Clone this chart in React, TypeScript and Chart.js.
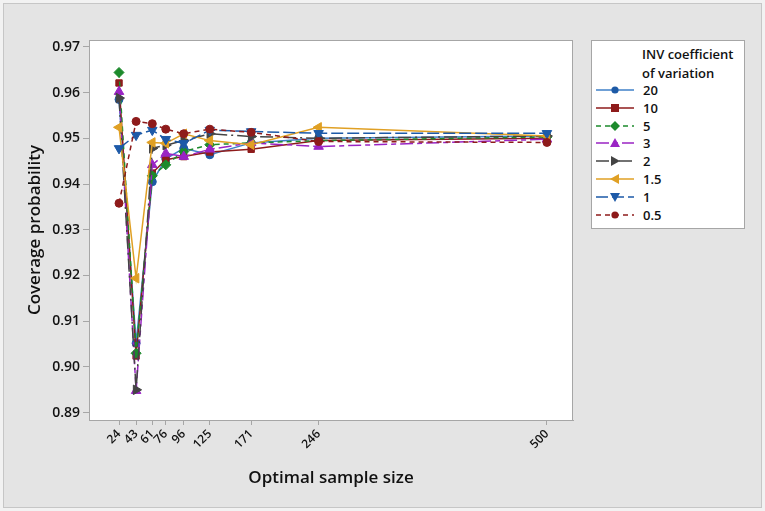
import { Chart, registerables } from "chart.js"
import { useEffect, useRef } from "react"

Chart.register(...registerables)

const FONT = '"Open Sans", "Noto Sans", sans-serif'

// optimal sample sizes on the x axis
const SAMPLE_SIZES = [24, 43, 61, 76, 96, 125, 171, 246, 500]
const Y_TICKS = [0.89, 0.9, 0.91, 0.92, 0.93, 0.94, 0.95, 0.96, 0.97]

// coverage probability per INV coefficient of variation
const CV_20 = [0.9585, 0.9052, 0.9405, 0.9455, 0.9478, 0.9464, 0.949, 0.95, 0.9505]
const CV_10 = [0.9621, 0.9024, 0.9424, 0.9453, 0.946, 0.947, 0.9476, 0.9495, 0.95]
const CV_5 = [0.9644, 0.903, 0.9418, 0.9442, 0.9471, 0.9486, 0.949, 0.9495, 0.9503]
const CV_3 = [0.9602, 0.8948, 0.9442, 0.9467, 0.946, 0.9476, 0.949, 0.9482, 0.9498]
const CV_2 = [0.9588, 0.895, 0.9478, 0.9485, 0.9495, 0.951, 0.9504, 0.95, 0.9505]
const CV_1_5 = [0.9524, 0.9194, 0.9491, 0.9489, 0.951, 0.9495, 0.9486, 0.9524, 0.9505]
const CV_1 = [0.9478, 0.9507, 0.9518, 0.9498, 0.9489, 0.9518, 0.9515, 0.9511, 0.9511]
const CV_0_5 = [0.9358, 0.9537, 0.9532, 0.952, 0.951, 0.952, 0.9513, 0.9493, 0.9491]

type Marker = "circle" | "square" | "diamond" | "up" | "right" | "left" | "down"

interface Series {
	label: string
	values: number[]
	line: string
	point: string
	dash: number[]
	marker: Marker
}

const SERIES: Series[] = [
	{ label: "20", values: CV_20, line: "#3f80c8", point: "#1d5aa6", dash: [], marker: "circle" },
	{ label: "10", values: CV_10, line: "#8e1b1b", point: "#8e1b1b", dash: [], marker: "square" },
	{ label: "5", values: CV_5, line: "#1d8a2c", point: "#1d8a2c", dash: [5, 4], marker: "diamond" },
	{ label: "3", values: CV_3, line: "#9a24c4", point: "#9a24c4", dash: [13, 4, 5, 4], marker: "up" },
	{ label: "2", values: CV_2, line: "#444444", point: "#444444", dash: [13, 4, 2, 4], marker: "right" },
	{ label: "1.5", values: CV_1_5, line: "#e0a024", point: "#e0a024", dash: [], marker: "left" },
	{ label: "1", values: CV_1, line: "#1d5aa8", point: "#1d5aa8", dash: [12, 4], marker: "down" },
	{ label: "0.5", values: CV_0_5, line: "#8e1b1b", point: "#8e1b1b", dash: [5, 4], marker: "circle" },
]

const POINT_STYLE: Record<Marker, { style: string; rotation: number; radius: number }> = {
	circle: { style: "circle", rotation: 0, radius: 4 },
	square: { style: "rect", rotation: 0, radius: 4.5 },
	diamond: { style: "rectRot", rotation: 0, radius: 5 },
	up: { style: "triangle", rotation: 0, radius: 5.5 },
	right: { style: "triangle", rotation: 90, radius: 5.5 },
	left: { style: "triangle", rotation: -90, radius: 5.5 },
	down: { style: "triangle", rotation: 180, radius: 5.5 },
}

const plotFrame = {
	id: "plotFrame",
	beforeDraw(chart: Chart) {
		const { ctx, chartArea } = chart
		const { left, top, right, bottom } = chartArea
		ctx.save()
		ctx.fillStyle = "#ffffff"
		ctx.fillRect(left, top, right - left, bottom - top)
		ctx.strokeStyle = "#a6a6a6"
		ctx.lineWidth = 1
		ctx.strokeRect(left + 0.5, top + 0.5, right - left - 1, bottom - top)
		ctx.restore()
	},
}

export default function App() {
	const canvasRef = useRef<HTMLCanvasElement>(null)

	useEffect(() => {
		if (!canvasRef.current) return

		const chart = new Chart(canvasRef.current, {
			type: "line",
			data: {
				datasets: SERIES.map((s, i) => {
					const ps = POINT_STYLE[s.marker]
					return {
						label: s.label,
						data: SAMPLE_SIZES.map((x, j) => ({ x, y: s.values[j] })),
						borderColor: s.line,
						borderWidth: 1.5,
						borderDash: s.dash,
						pointStyle: ps.style as any,
						pointRotation: ps.rotation,
						pointRadius: ps.radius,
						pointBackgroundColor: s.point,
						pointBorderColor: s.point,
						pointBorderWidth: 1,
						tension: 0,
						fill: false,
						order: SERIES.length - i,
					}
				}),
			},
			options: {
				responsive: false,
				animation: false,
				layout: { padding: { left: 0, top: 40, right: 192, bottom: 0 } },
				plugins: { legend: { display: false }, tooltip: { enabled: false } },
				scales: {
					x: {
						type: "linear",
						min: -9.4,
						max: 529,
						afterBuildTicks: (axis: any) => {
							axis.ticks = SAMPLE_SIZES.map((v) => ({ value: v }))
						},
						afterFit: (axis: any) => {
							axis.height = 91
						},
						ticks: {
							autoSkip: false,
							minRotation: 45,
							maxRotation: 45,
							padding: 2,
							color: "#111",
							font: { family: FONT, size: 12, weight: "600" },
							callback: (v: any) => String(v),
						},
						grid: { drawOnChartArea: false, tickLength: 5, color: "#a6a6a6" },
						border: { color: "#a6a6a6" },
						title: {
							display: true,
							text: "Optimal sample size",
							color: "#111",
							font: { family: FONT, size: 17, weight: "600" },
							padding: { top: 0, bottom: 23 },
						},
					},
					y: {
						type: "linear",
						min: 0.8884,
						max: 0.9715,
						afterBuildTicks: (axis: any) => {
							axis.ticks = Y_TICKS.map((v) => ({ value: v }))
						},
						afterFit: (axis: any) => {
							axis.width = 89
						},
						ticks: {
							padding: 3,
							color: "#111",
							font: { family: FONT, size: 14, weight: "600" },
							callback: (v: any) => Number(v).toFixed(2),
						},
						grid: { drawOnChartArea: false, tickLength: 6, color: "#a6a6a6" },
						border: { color: "#a6a6a6" },
						title: {
							display: true,
							text: "Coverage probability",
							color: "#111",
							font: { family: FONT, size: 17, weight: "600" },
							padding: { top: 25, bottom: 0 },
						},
					},
				},
			},
			plugins: [plotFrame],
		})

		return () => {
			chart.destroy()
		}
	}, [])

	return (
		<div
			style={{
				position: "absolute",
				left: 0,
				top: 0,
				width: 765,
				height: 511,
				background: "#f2f2f2",
				fontFamily: FONT,
			}}
		>
			<div
				style={{
					position: "absolute",
					left: 3,
					top: 3,
					width: 757,
					height: 503,
					border: "1px solid #c6c6c6",
					background: "#e4e4e4",
				}}
			/>
			<canvas
				ref={canvasRef}
				width={765}
				height={511}
				style={{ position: "absolute", left: 0, top: 0 }}
				aria-label="Coverage probability by optimal sample size"
			/>

			{/* legend */}
			<div
				style={{
					position: "absolute",
					left: 591,
					top: 40,
					width: 152,
					height: 187,
					border: "1px solid #a6a6a6",
					background: "#fff",
					fontSize: 13,
					fontWeight: 600,
					color: "#111",
				}}
			>
				<div style={{ position: "absolute", left: 50, top: 4, lineHeight: "19px" }}>
					INV coefficient
					<br />
					of variation
				</div>
				{SERIES.map((s, i) => (
					<div
						key={s.label}
						style={{
							position: "absolute",
							left: 4,
							top: 40 + i * 17.8,
							height: 18,
							display: "flex",
							alignItems: "center",
						}}
					>
						<LegendSample series={s} />
						<span style={{ marginLeft: 9 }}>{s.label}</span>
					</div>
				))}
			</div>
		</div>
	)
}

function LegendSample({ series }: { series: Series }) {
	const cx = 19
	const cy = 6
	let mark
	switch (series.marker) {
		case "circle":
			mark = <circle cx={cx} cy={cy} r={3.6} fill={series.point} />
			break
		case "square":
			mark = <rect x={cx - 4} y={cy - 4} width={8} height={8} fill={series.point} />
			break
		case "diamond":
			mark = <polygon points={`${cx},${cy - 5} ${cx + 5},${cy} ${cx},${cy + 5} ${cx - 5},${cy}`} fill={series.point} />
			break
		case "up":
			mark = <polygon points={`${cx},${cy - 5} ${cx + 5},${cy + 4} ${cx - 5},${cy + 4}`} fill={series.point} />
			break
		case "down":
			mark = <polygon points={`${cx},${cy + 5} ${cx + 5},${cy - 4} ${cx - 5},${cy - 4}`} fill={series.point} />
			break
		case "right":
			mark = <polygon points={`${cx + 5},${cy} ${cx - 4},${cy - 5} ${cx - 4},${cy + 5}`} fill={series.point} />
			break
		default:
			mark = <polygon points={`${cx - 5},${cy} ${cx + 4},${cy - 5} ${cx + 4},${cy + 5}`} fill={series.point} />
	}
	return (
		<svg width={38} height={12} style={{ display: "block" }}>
			<line
				x1={0}
				y1={cy}
				x2={38}
				y2={cy}
				stroke={series.line}
				strokeWidth={1.5}
				strokeDasharray={series.dash.length ? series.dash.join(" ") : undefined}
			/>
			{mark}
		</svg>
	)
}
